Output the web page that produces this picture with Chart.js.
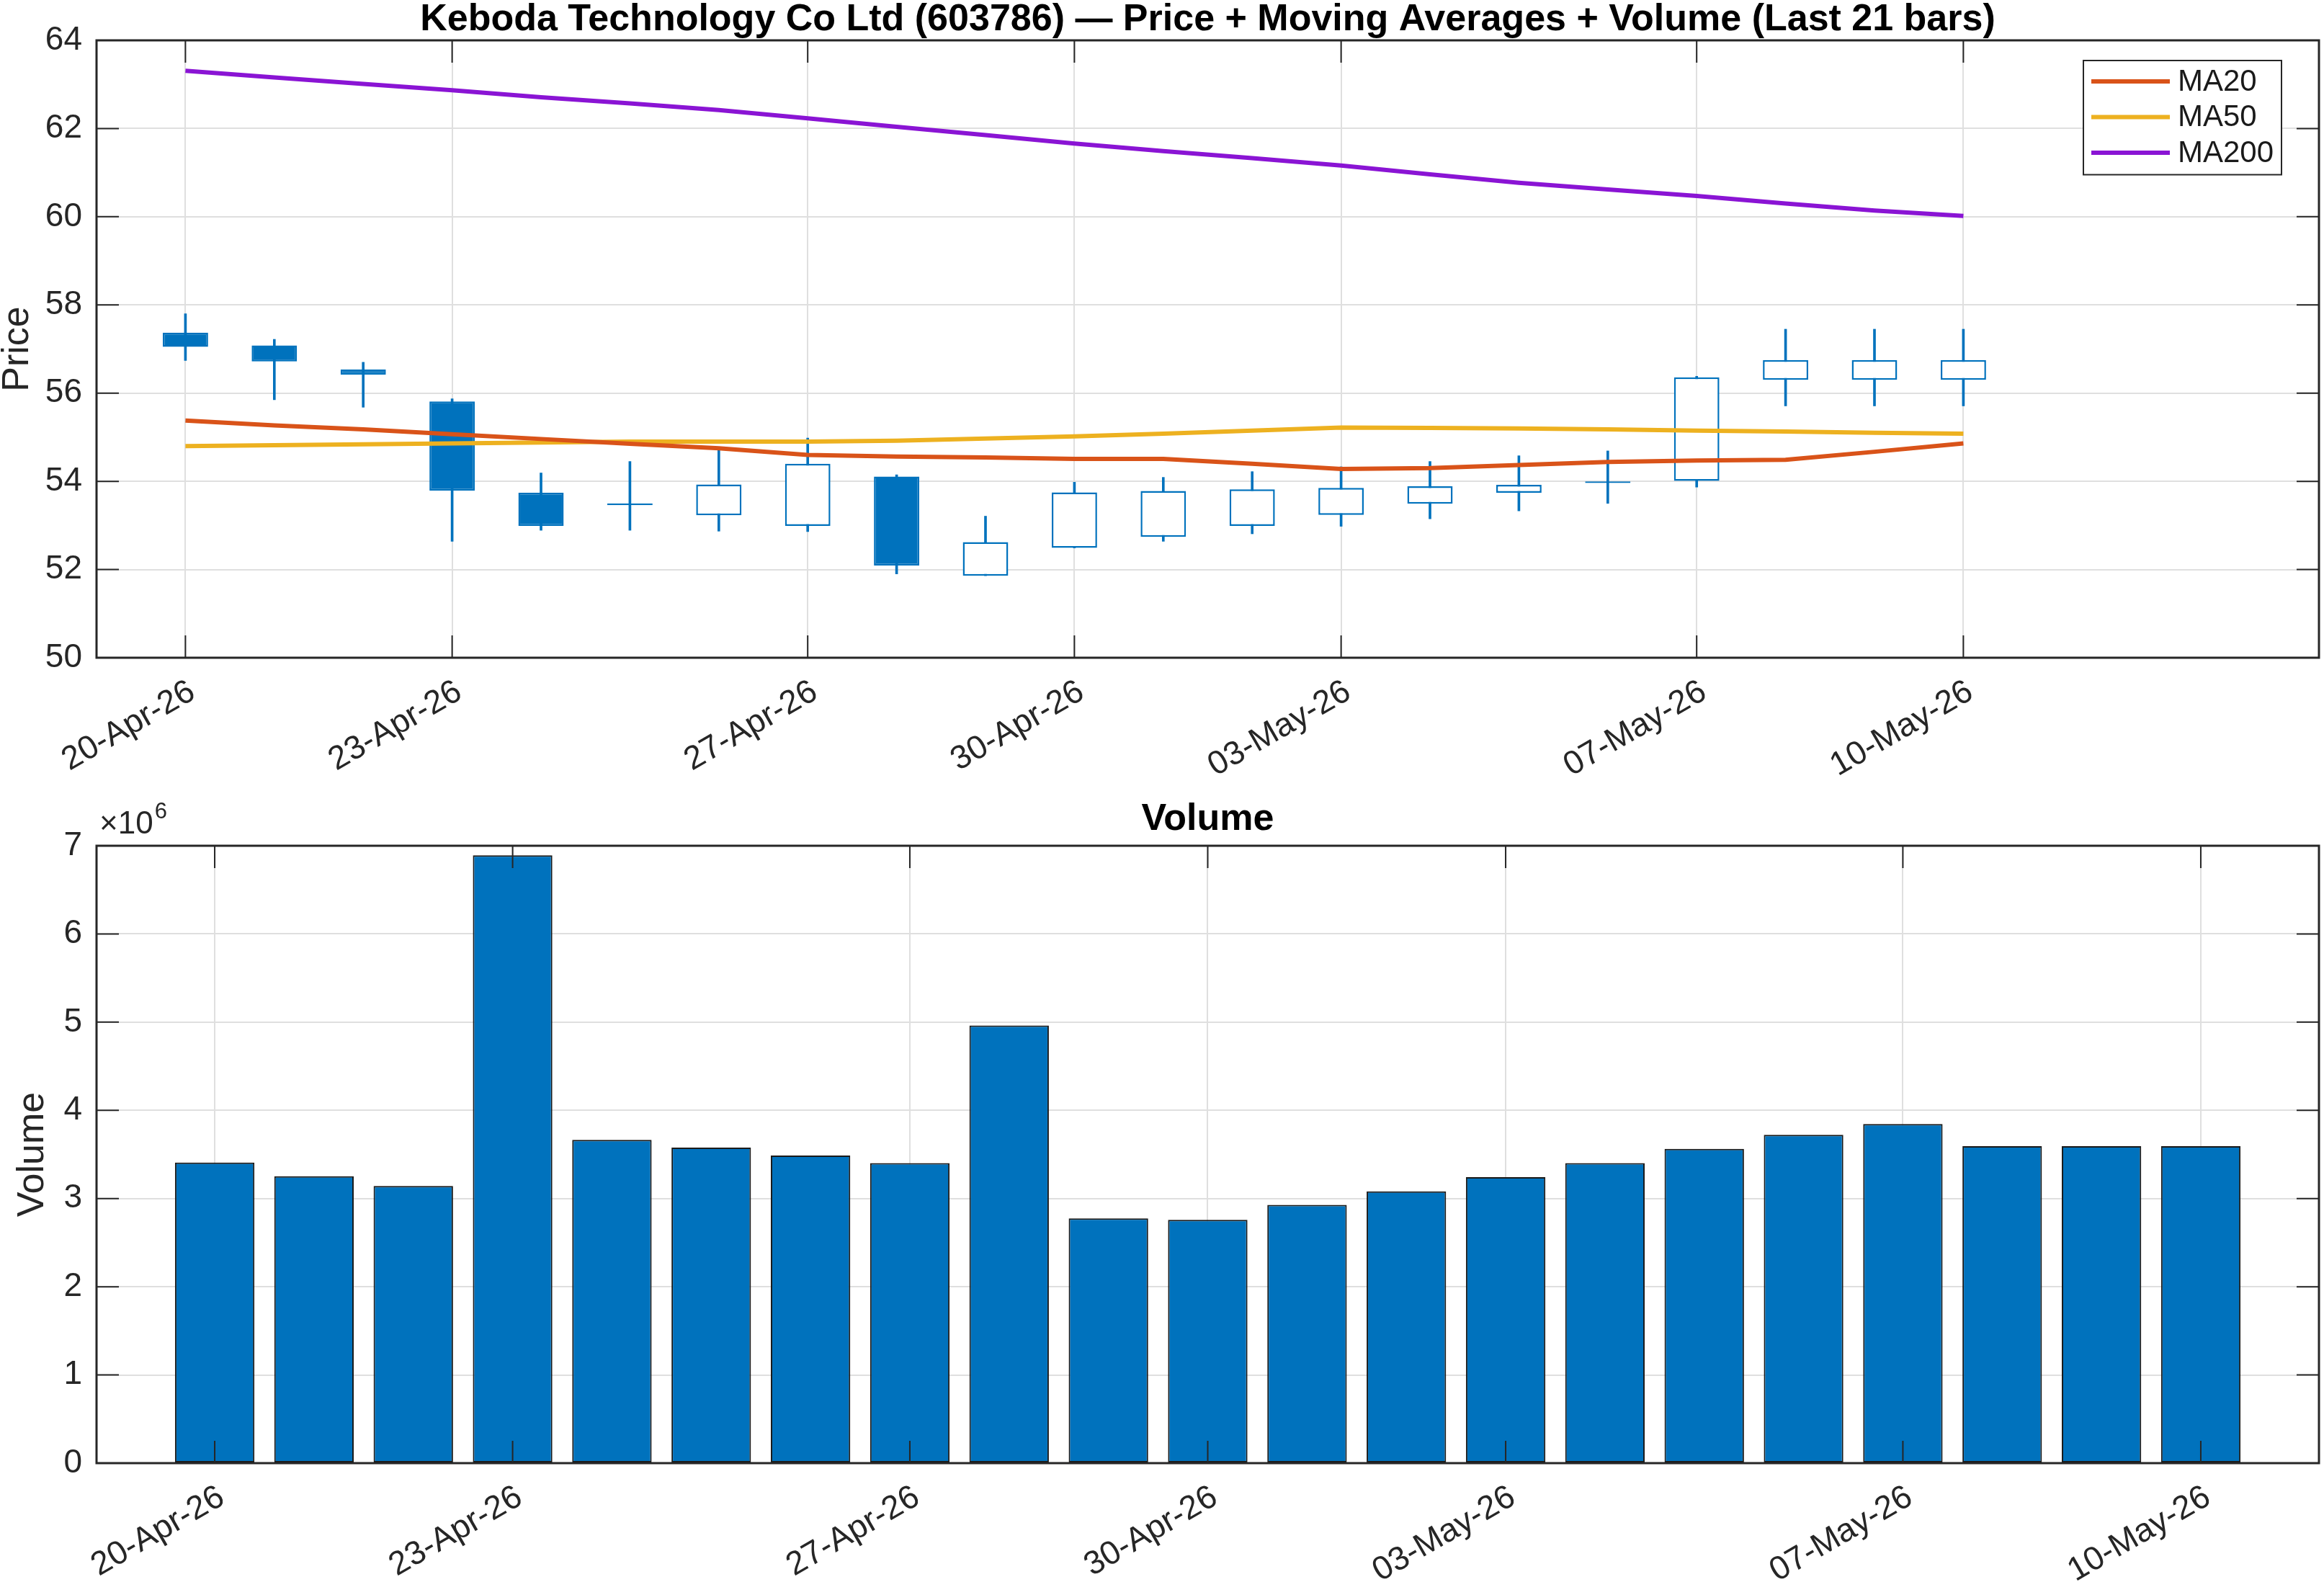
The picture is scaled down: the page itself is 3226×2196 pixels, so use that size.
<!DOCTYPE html>
<html>
<head>
<meta charset="utf-8">
<title>Keboda Technology Co Ltd (603786)</title>
<script src="https://cdn.jsdelivr.net/npm/chart.js@4.4.1/dist/chart.umd.min.js"></script>
<style>
    html, body { margin: 0; padding: 0; background: #fff; }
    #wrap { position: relative; width: 3226px; height: 2196px; }
    .panel { position: absolute; left: 0; width: 3226px; }
    #priceBox { top: 0; height: 1100px; }
    #volBox { top: 1100px; height: 1096px; }
</style>
</head>
<body>
<div id="wrap">
    <div class="panel" id="priceBox"><canvas id="priceChart"></canvas></div>
    <div class="panel" id="volBox"><canvas id="volChart"></canvas></div>
</div>
<script>
// daily bars, 20-Apr-26 .. 10-May-26
const dates = [
    "20-Apr-26", "21-Apr-26", "22-Apr-26", "23-Apr-26", "24-Apr-26", "25-Apr-26", "26-Apr-26",
    "27-Apr-26", "28-Apr-26", "29-Apr-26", "30-Apr-26", "01-May-26", "02-May-26", "03-May-26",
    "04-May-26", "05-May-26", "06-May-26", "07-May-26", "08-May-26", "09-May-26", "10-May-26"
];
const tickLabels = ["20-Apr-26", "23-Apr-26", "27-Apr-26", "30-Apr-26", "03-May-26", "07-May-26", "10-May-26"];

const openP  = [57.37, 57.08, 56.54, 55.81, 53.74, 53.50, 53.23, 52.99, 54.11, 51.86, 52.49, 52.74, 52.99, 53.24, 53.49, 53.74, 54.00, 54.01, 56.30, 56.30, 56.30];
const highP  = [57.80, 57.22, 56.70, 55.87, 54.19, 54.45, 54.72, 54.98, 54.15, 53.21, 53.98, 54.09, 54.22, 54.33, 54.45, 54.58, 54.69, 56.38, 57.45, 57.45, 57.45];
const lowP   = [56.74, 55.85, 55.68, 52.64, 52.89, 52.89, 52.87, 52.86, 51.90, 51.86, 52.49, 52.64, 52.81, 52.98, 53.15, 53.33, 53.50, 53.87, 55.71, 55.71, 55.71];
const closeP = [57.05, 56.72, 56.42, 53.79, 52.99, 53.46, 53.93, 54.40, 52.09, 52.62, 53.75, 53.78, 53.82, 53.85, 53.89, 53.92, 53.96, 56.36, 56.75, 56.75, 56.75];

const ma20  = [55.38, 55.27, 55.18, 55.07, 54.96, 54.85, 54.75, 54.60, 54.56, 54.54, 54.51, 54.51, 54.40, 54.28, 54.30, 54.37, 54.44, 54.47, 54.49, 54.67, 54.86];
const ma50  = [54.80, 54.82, 54.84, 54.86, 54.88, 54.90, 54.90, 54.90, 54.92, 54.97, 55.02, 55.08, 55.15, 55.22, 55.21, 55.20, 55.18, 55.15, 55.13, 55.10, 55.08];
const ma200 = [63.31, 63.16, 63.01, 62.87, 62.71, 62.57, 62.42, 62.23, 62.04, 61.85, 61.66, 61.49, 61.33, 61.16, 60.96, 60.77, 60.62, 60.47, 60.30, 60.14, 60.02];

const volume = [3409000, 3253000, 3142000, 6891000, 3665000, 3578000, 3488000, 3401000, 4962000, 2776000, 2759000,
                2928000, 3082000, 3243000, 3403000, 3564000, 3722000, 3845000, 3594000, 3594000, 3594000];

const BLUE = "#0072BD";
const AXIS = "#262626";
const GRID = "#DFDFDF";
Chart.defaults.font.family = "'Liberation Sans', Arial, Helvetica, sans-serif";
Chart.defaults.color = AXIS;

// matlab style box + inward ticks on all four sides
const axesFrame = {
    id: "axesFrame",
    afterDatasetsDraw(chart) {
        const ctx = chart.ctx;
        const a = chart.chartArea;
        const xs = chart.scales.x, ys = chart.scales.y;
        const tl = 31;
        ctx.save();
        ctx.strokeStyle = AXIS;
        ctx.lineWidth = 2;
        ctx.beginPath();
        xs.ticks.forEach(t => {
            const px = xs.getPixelForValue(t.value);
            ctx.moveTo(px, a.bottom); ctx.lineTo(px, a.bottom - tl);
            ctx.moveTo(px, a.top); ctx.lineTo(px, a.top + tl);
        });
        ys.ticks.forEach(t => {
            const py = ys.getPixelForValue(t.value);
            ctx.moveTo(a.left, py); ctx.lineTo(a.left + tl, py);
            ctx.moveTo(a.right, py); ctx.lineTo(a.right - tl, py);
        });
        ctx.stroke();
        ctx.lineWidth = 3;
        ctx.strokeRect(a.left, a.top, a.right - a.left, a.bottom - a.top);
        ctx.restore();
    }
};

// boxed legend in the upper right, only the MA lines
const maLegend = {
    id: "maLegend",
    afterDraw(chart) {
        const ctx = chart.ctx;
        const a = chart.chartArea;
        const items = chart.data.datasets.filter(d => d.type === "line");
        const w = 275, rowH = 49.5;
        const x0 = a.right - 52 - w, y0 = a.top + 28;
        const h = rowH * items.length + 10;
        ctx.save();
        ctx.fillStyle = "#fff";
        ctx.fillRect(x0, y0, w, h);
        ctx.strokeStyle = AXIS;
        ctx.lineWidth = 2;
        ctx.strokeRect(x0, y0, w, h);
        ctx.font = "42px 'Liberation Sans', Arial, sans-serif";
        ctx.textBaseline = "middle";
        items.forEach((d, k) => {
            const y = y0 + 29 + k * rowH;
            ctx.strokeStyle = d.borderColor;
            ctx.lineWidth = 6;
            ctx.beginPath();
            ctx.moveTo(x0 + 11, y);
            ctx.lineTo(x0 + 120, y);
            ctx.stroke();
            ctx.fillStyle = "#1a1a1a";
            ctx.fillText(d.label, x0 + 131, y + 1);
        });
        ctx.restore();
    }
};

// x10^6 exponent label above the volume axis
const expLabel = {
    id: "expLabel",
    afterDraw(chart) {
        const ctx = chart.ctx;
        const a = chart.chartArea;
        ctx.save();
        ctx.fillStyle = AXIS;
        ctx.textBaseline = "alphabetic";
        ctx.font = "44px 'Liberation Sans', Arial, sans-serif";
        ctx.fillText("×10", a.left + 4, a.top - 17);
        const w = ctx.measureText("×10").width;
        ctx.font = "31px 'Liberation Sans', Arial, sans-serif";
        ctx.fillText("6", a.left + 6 + w, a.top - 38);
        ctx.restore();
    }
};

function dateAxis(min, max, height) {
    return {
        type: "linear",
        min: min,
        max: max,
        offset: false,
        afterBuildTicks: s => { s.ticks = tickLabels.map(t => ({ value: dates.indexOf(t) })); },
        afterFit: s => { s.height = height; },
        ticks: {
            callback: v => dates[v],
            autoSkip: false,
            minRotation: 30,
            maxRotation: 30,
            padding: 20,
            labelOffset: 10,
            font: { size: 46 },
            color: AXIS
        },
        grid: { color: GRID, lineWidth: 2, drawTicks: false, offset: false },
        border: { display: false }
    };
}

function titleOpts(text, pad) {
    return {
        display: true,
        text: text,
        fullSize: false,
        font: { size: 52, weight: "bold", lineHeight: 1.05 },
        color: "#000",
        padding: pad
    };
}

const downDay = openP.map((o, i) => closeP[i] < o);

new Chart(document.getElementById("priceChart"), {
    type: "bar",
    data: {
        datasets: [
            { type: "line", label: "MA20", data: ma20.map((v, i) => ({ x: i, y: v })),
              borderColor: "#D95319", borderWidth: 6, pointRadius: 0, tension: 0, order: 0 },
            { type: "line", label: "MA50", data: ma50.map((v, i) => ({ x: i, y: v })),
              borderColor: "#EDB120", borderWidth: 6, pointRadius: 0, tension: 0, order: 0 },
            { type: "line", label: "MA200", data: ma200.map((v, i) => ({ x: i, y: v })),
              borderColor: "#8A14D4", borderWidth: 6, pointRadius: 0, tension: 0, order: 0 },
            { label: "body", data: openP.map((o, i) => ({ x: i, y: [o, closeP[i]] })),
              backgroundColor: downDay.map(d => d ? BLUE : "#fff"),
              borderColor: BLUE, borderWidth: 2.5, borderSkipped: false,
              grouped: false, barPercentage: 0.51, categoryPercentage: 1, order: 1 },
            { label: "wick", data: lowP.map((l, i) => ({ x: i, y: [l, highP[i]] })),
              backgroundColor: BLUE, borderWidth: 0, barThickness: 3,
              grouped: false, order: 2 }
        ]
    },
    options: {
        responsive: true,
        maintainAspectRatio: false,
        devicePixelRatio: 1,
        animation: false,
        events: [],
        layout: { padding: { top: 0, right: 7, bottom: 0, left: 0 } },
        plugins: {
            legend: { display: false },
            tooltip: { enabled: false },
            title: titleOpts("Keboda Technology Co Ltd (603786) — Price + Moving Averages + Volume (Last 21 bars)", { top: 0, bottom: 1.4 })
        },
        scales: {
            x: dateAxis(-1, 24, 187),
            y: {
                min: 50,
                max: 64,
                afterFit: s => { s.width = 134; },
                ticks: { stepSize: 2, padding: 20, font: { size: 46 }, color: AXIS },
                grid: { color: GRID, lineWidth: 2, drawTicks: false },
                border: { display: false },
                title: { display: true, text: "Price", font: { size: 52, lineHeight: 1 }, color: AXIS, padding: { top: -1, bottom: 0 } }
            }
        }
    },
    plugins: [axesFrame, maLegend]
});

new Chart(document.getElementById("volChart"), {
    type: "bar",
    data: {
        datasets: [{
            label: "Volume",
            data: volume.map((v, i) => ({ x: i, y: v })),
            backgroundColor: BLUE,
            borderColor: "#1a1a1a",
            borderWidth: 2,
            borderSkipped: false,
            barPercentage: 0.8,
            categoryPercentage: 1
        }]
    },
    options: {
        responsive: true,
        maintainAspectRatio: false,
        devicePixelRatio: 1,
        animation: false,
        events: [],
        layout: { padding: { top: 0, right: 7, bottom: 0, left: 0 } },
        plugins: {
            legend: { display: false },
            tooltip: { enabled: false },
            title: titleOpts("Volume", { top: 10, bottom: 9.4 })
        },
        scales: {
            x: dateAxis(-1.19, 21.19, 165),
            y: {
                min: 0,
                max: 7000000,
                afterFit: s => { s.width = 134; },
                ticks: { stepSize: 1000000, callback: v => v / 1000000, padding: 20, font: { size: 46 }, color: AXIS },
                grid: { color: GRID, lineWidth: 2, drawTicks: false },
                border: { display: false },
                title: { display: true, text: "Volume", font: { size: 52, lineHeight: 1 }, color: AXIS, padding: { top: 20, bottom: 0 } }
            }
        }
    },
    plugins: [axesFrame, expLabel]
});
</script>
</body>
</html>
